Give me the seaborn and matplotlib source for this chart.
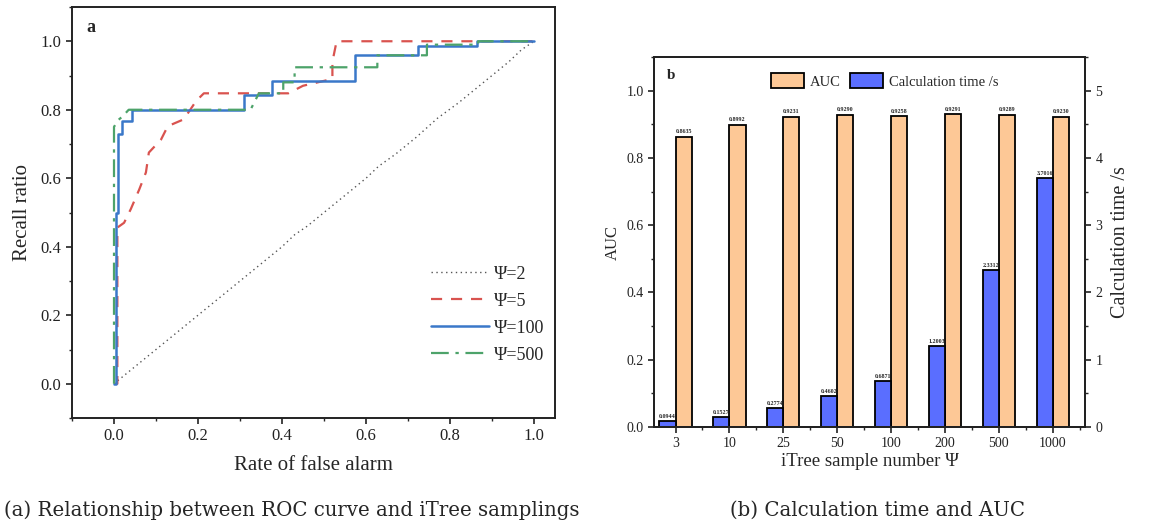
import numpy as np
import pandas as pd
import matplotlib
matplotlib.use("Agg")
import matplotlib.pyplot as plt
import seaborn as sns
from matplotlib.ticker import MultipleLocator

sns.set_theme(style="ticks")
plt.rcParams['font.family'] = ['Liberation Serif', 'DejaVu Serif']

# ROC curves (rate of false alarm, recall ratio)
fpr_2 = [0.0, 0.01, 0.04, 0.07, 0.1, 0.13, 0.16, 0.2, 0.24, 0.28, 0.32, 0.36, 0.4, 0.43,
         0.46, 0.5, 0.55, 0.6, 0.63, 0.67, 0.72, 0.77, 0.82, 0.86, 0.9, 0.94, 0.97, 1.0]
tpr_2 = [0.0, 0.01, 0.04, 0.07, 0.1, 0.13, 0.16, 0.2, 0.24, 0.28, 0.32, 0.36, 0.4, 0.435,
         0.46, 0.5, 0.55, 0.6, 0.635, 0.67, 0.72, 0.775, 0.82, 0.86, 0.9, 0.94, 0.975, 1.0]

fpr_5 = [0.0, 0.008, 0.008, 0.024, 0.04, 0.06, 0.076, 0.083, 0.112, 0.128, 0.166, 0.187,
         0.195, 0.214, 0.415, 0.45, 0.52, 0.52, 0.53, 1.0]
tpr_5 = [0.0, 0.0, 0.456, 0.47, 0.51, 0.567, 0.617, 0.675, 0.713, 0.752, 0.772, 0.81,
         0.825, 0.848, 0.848, 0.87, 0.89, 0.94, 1.0, 1.0]

fpr_100 = [0.0, 0.005, 0.005, 0.01, 0.01, 0.02, 0.02, 0.043, 0.043, 0.31, 0.31, 0.377,
           0.377, 0.575, 0.575, 0.725, 0.725, 0.865, 0.865, 1.0]
tpr_100 = [0.0, 0.0, 0.5, 0.5, 0.728, 0.728, 0.766, 0.766, 0.8, 0.8, 0.842, 0.842,
           0.883, 0.883, 0.959, 0.959, 0.985, 0.985, 1.0, 1.0]

fpr_500 = [0.0, 0.0, 0.01, 0.02, 0.035, 0.325, 0.345, 0.403, 0.403, 0.43, 0.43, 0.627,
           0.627, 0.745, 0.745, 0.867, 0.867, 1.0]
tpr_500 = [0.0, 0.75, 0.77, 0.78, 0.8, 0.8, 0.848, 0.848, 0.88, 0.88, 0.924, 0.924,
           0.959, 0.959, 0.99, 0.99, 1.0, 1.0]

# bar chart data
samples = ['3', '10', '25', '50', '100', '200', '500', '1000']
auc = [0.8635, 0.8992, 0.9231, 0.9290, 0.9258, 0.9291, 0.9289, 0.9230]
calc_time = [0.0944, 0.1527, 0.2774, 0.4602, 0.6871, 1.2003, 2.3312, 3.7016]

fig = plt.figure(figsize=(11.56, 5.24), dpi=100)
W, H = 1156, 524

# ---------------- (a) ROC curves ----------------
ax1 = fig.add_axes([72 / W, (H - 418) / H, (555 - 72) / W, (418 - 7) / H])
curves = [(fpr_2, tpr_2, 'Ψ=2', '#555555', (0, (1, 2.5)), 1.0),
          (fpr_5, tpr_5, 'Ψ=5', '#d9534f', (0, (5, 4)), 1.6),
          (fpr_100, tpr_100, 'Ψ=100', '#3a78c9', '-', 1.8),
          (fpr_500, tpr_500, 'Ψ=500', '#4da36a', (0, (8, 3, 1.5, 3)), 1.6)]
for fx, ty, lab, col, ls, lw in curves:
    df = pd.DataFrame({'fpr': fx, 'tpr': ty})
    sns.lineplot(data=df, x='fpr', y='tpr', sort=False, estimator=None, ax=ax1,
                 color=col, linestyle=ls, linewidth=lw, label=lab)

ax1.set_xlim(-0.1, 1.05)
ax1.set_ylim(-0.1, 1.1)
ax1.xaxis.set_minor_locator(MultipleLocator(0.1))
ax1.yaxis.set_minor_locator(MultipleLocator(0.1))
ax1.set_xticks(np.arange(0, 1.01, 0.2))
ax1.set_xticklabels([f'{v:.1f}' for v in np.arange(0, 1.01, 0.2)])
ax1.set_yticks(np.arange(0, 1.01, 0.2))
ax1.set_yticklabels([f'{v:.1f}' for v in np.arange(0, 1.01, 0.2)])
ax1.set_xlabel('Rate of false alarm', fontsize=15, labelpad=8)
ax1.set_ylabel('Recall ratio', fontsize=15, labelpad=6)
ax1.text(0.03, 0.95, 'a', transform=ax1.transAxes, fontsize=13, fontweight='bold', va='center')
ax1.legend(loc='upper left', bbox_to_anchor=(0.71, 0.41), frameon=False, fontsize=13,
           handlelength=3.2, labelspacing=0.55, handletextpad=0.3)

# ---------------- (b) bars ----------------
ax2 = fig.add_axes([654 / W, (H - 427) / H, (1085 - 654) / W, (427 - 57) / H])
ax3 = ax2.twinx()
bw = 0.3
sns.barplot(x=samples, y=auc, ax=ax2, color='#fdc896', width=bw, saturation=1,
            edgecolor='black', linewidth=1.3, label='AUC')
sns.barplot(x=samples, y=calc_time, ax=ax3, color='#5a6eff', width=bw, saturation=1,
            edgecolor='black', linewidth=1.3, label='Calculation time /s')
for ax in (ax2, ax3):
    if ax.get_legend() is not None:
        ax.get_legend().remove()
for p in ax2.patches:
    p.set_x(p.get_x() + bw / 2)
for p in ax3.patches:
    p.set_x(p.get_x() - bw / 2)
ax2.bar_label(ax2.containers[0], labels=[f'{v:.4f}' for v in auc], fontsize=4.3,
              fontweight='bold', padding=1.5)
ax3.bar_label(ax3.containers[0], labels=[f'{v:.4f}' for v in calc_time], fontsize=4.3,
              fontweight='bold', padding=1.5)

ax2.set_xlim(-0.4, 7.6)
ax3.set_xlim(-0.4, 7.6)
ax2.set_ylim(0, 1.1)
ax3.set_ylim(0, 5.5)
ax2.set_yticks(np.arange(0, 1.01, 0.2))
ax2.set_yticklabels([f'{v:.1f}' for v in np.arange(0, 1.01, 0.2)])
ax2.yaxis.set_minor_locator(MultipleLocator(0.1))
ax3.set_yticks(range(0, 6))
ax3.yaxis.set_minor_locator(MultipleLocator(0.5))
ax2.set_xticks(range(len(samples)))
ax2.set_xticklabels(samples)
ax2.set_xticks(np.arange(0.5, len(samples), 1), minor=True)
ax2.set_xlabel('iTree sample number Ψ', fontsize=13.5, labelpad=2)
ax2.set_ylabel('AUC', fontsize=12, labelpad=4)
ax3.set_ylabel('Calculation time /s', fontsize=14.5, labelpad=6)
ax3.text(0.03, 0.95, 'b', transform=ax3.transAxes, fontsize=11, fontweight='bold', va='center')

h2, l2 = ax2.get_legend_handles_labels()
h3, l3 = ax3.get_legend_handles_labels()
ax3.legend(h2 + h3, l2 + l3, loc='center', bbox_to_anchor=(0.535, 0.935), ncol=2,
           frameon=False, fontsize=10.5, handlelength=2.3, handleheight=1.2,
           columnspacing=0.6, handletextpad=0.4)

for ax in (ax1, ax2, ax3):
    for s in ax.spines.values():
        s.set_visible(True)
        s.set_linewidth(1.4)
        s.set_color('#222222')
    ax.tick_params(which='major', direction='out', length=4, width=1.2, labelsize=10,
                   colors='#222222')
    ax.tick_params(which='minor', direction='out', length=2.5, width=1.0)
    ax.grid(False)
ax1.tick_params(which='major', labelsize=12)

# captions
fig.text(292 / W, 1 - 510 / H, '(a) Relationship between ROC curve and iTree samplings',
         ha='center', va='center', fontsize=14.2, family='DejaVu Serif')
fig.text(878 / W, 1 - 510 / H, '(b) Calculation time and AUC',
         ha='center', va='center', fontsize=14.2, family='DejaVu Serif')

fig.savefig('out.png', dpi=100)
